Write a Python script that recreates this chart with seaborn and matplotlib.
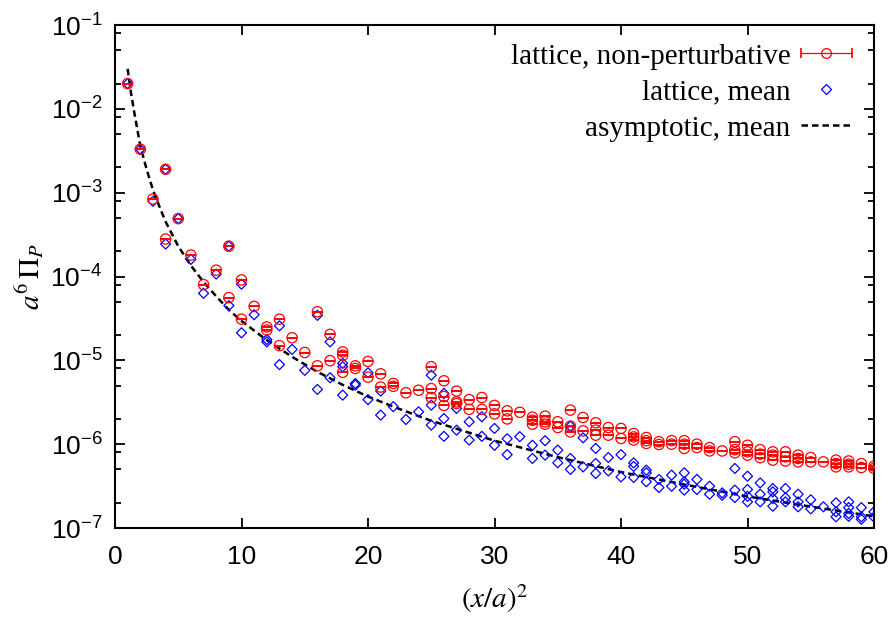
import numpy as np
import pandas as pd
import matplotlib
matplotlib.use("Agg")
import matplotlib.pyplot as plt
from matplotlib.lines import Line2D
from matplotlib.legend_handler import HandlerTuple, HandlerLine2D
from matplotlib.ticker import LogLocator, FuncFormatter, NullFormatter
import seaborn as sns

# --- data ------------------------------------------------------------------
# (x/a)^2 = 1..60 ; several lattice orbits per value
x_sq = list(range(1, 61))

nonpert_vals = [
    [2.0e-2], [3.3e-3], [8.4e-4], [1.9e-3, 2.8e-4], [4.9e-4],
    [1.8e-4], [8.0e-5], [1.19e-4], [2.3e-4, 5.6e-5], [9.1e-5, 3.1e-5],
    [4.4e-5], [2.5e-5, 2.3e-5], [3.1e-5, 1.5e-5], [1.86e-5], [1.24e-5],
    [3.8e-5, 8.6e-6], [2.04e-5, 9.9e-6], [1.26e-5, 1.15e-5, 7.2e-6], [8.6e-6, 8.0e-6], [9.7e-6, 6.3e-6],
    [6.9e-6, 4.8e-6], [5.3e-6, 4.9e-6], [4.1e-6], [4.4e-6], [8.4e-6, 4.6e-6, 3.6e-6],
    [5.7e-6, 3.7e-6, 2.9e-6], [4.3e-6, 3.2e-6, 3.05e-6], [3.4e-6, 2.6e-6], [3.6e-6, 2.6e-6], [2.9e-6, 2.3e-6],
    [2.5e-6, 2.0e-6], [2.4e-6], [2.1e-6, 1.93e-6, 1.73e-6], [2.16e-6, 1.85e-6, 1.73e-6], [1.85e-6, 1.58e-6],
    [2.55e-6, 1.64e-6, 1.4e-6], [2.08e-6, 1.44e-6], [1.8e-6, 1.47e-6, 1.28e-6], [1.58e-6, 1.28e-6], [1.54e-6, 1.17e-6],
    [1.34e-6, 1.22e-6, 1.12e-6], [1.2e-6, 1.1e-6, 1.02e-6], [1.07e-6, 9.9e-7], [1.1e-6, 1.0e-6], [1.1e-6, 1.0e-6, 8.9e-7],
    [1.0e-6, 9.1e-7], [9.1e-7, 8.3e-7], [8.3e-7], [1.07e-6, 8.6e-7, 7.9e-7], [9.7e-7, 8.1e-7, 7.4e-7],
    [8.6e-7, 7.6e-7, 6.9e-7], [8.1e-7, 7.4e-7, 6.45e-7], [8.1e-7, 7.06e-7, 6.3e-7], [7.4e-7, 6.75e-7, 6.15e-7], [6.93e-7, 6.15e-7],
    [6.15e-7], [6.45e-7, 5.87e-7, 5.36e-7], [6.3e-7, 5.77e-7, 5.36e-7], [5.87e-7, 5.26e-7], [5.47e-7, 5.13e-7],
]

mean_vals = [
    [2.0e-2], [3.3e-3], [7.9e-4], [1.9e-3, 2.44e-4], [4.9e-4],
    [1.6e-4], [6.3e-5], [1.07e-4], [2.3e-4, 4.5e-5], [8.1e-5, 2.13e-5],
    [3.5e-5], [1.77e-5, 1.66e-5], [2.58e-5, 8.9e-6], [1.35e-5], [7.6e-6],
    [3.44e-5, 4.5e-6], [1.66e-5, 6.2e-6], [9.2e-6, 8.4e-6, 3.85e-6], [5.3e-6, 5.06e-6], [7.1e-6, 3.4e-6],
    [4.3e-6, 2.22e-6], [2.8e-6], [1.97e-6], [2.43e-6], [6.65e-6, 2.92e-6, 1.69e-6],
    [4.03e-6, 2.02e-6, 1.24e-6], [2.67e-6, 1.47e-6], [1.85e-6, 1.12e-6], [2.12e-6, 1.24e-6], [1.54e-6, 9.7e-7],
    [1.16e-6, 7.5e-7], [1.23e-6], [9.7e-7, 6.75e-7], [1.1e-6, 7.4e-7], [8.5e-7, 6.0e-7],
    [1.64e-6, 6.75e-7, 5.0e-7], [1.19e-6, 5.36e-7], [8.9e-7, 5.9e-7, 4.47e-7], [6.93e-7, 4.8e-7], [7.5e-7, 4.07e-7],
    [5.98e-7, 5.43e-7, 4.01e-7], [4.9e-7, 4.55e-7, 3.56e-7], [3.8e-7, 3.04e-7], [4.27e-7, 3.15e-7], [4.55e-7, 3.55e-7, 3.33e-7, 2.83e-7],
    [3.8e-7, 2.88e-7], [3.15e-7, 2.53e-7], [2.62e-7, 2.46e-7], [5.13e-7, 2.83e-7, 2.31e-7], [4.15e-7, 2.88e-7, 2.39e-7, 2.05e-7],
    [3.45e-7, 2.53e-7, 2.05e-7], [2.96e-7, 2.7e-7, 2.25e-7, 1.82e-7], [2.96e-7, 2.29e-7, 2.05e-7], [2.53e-7, 2.05e-7, 1.79e-7], [2.17e-7, 1.69e-7],
    [1.79e-7], [2.0e-7, 1.56e-7, 1.36e-7], [2.05e-7, 1.75e-7, 1.49e-7, 1.38e-7], [1.75e-7, 1.36e-7, 1.27e-7], [1.56e-7, 1.35e-7],
]

asym_x = [1, 1.25, 1.5, 2, 2.5, 3, 3.5, 4, 5, 6, 7, 8, 9, 10, 12, 14, 16, 18, 20,
          22, 25, 30, 35, 40, 45, 50, 55, 60]
asym_y = [3.0e-2, 1.6e-2, 9.5e-3, 3.6e-3, 1.9e-3, 1.08e-3, 6.9e-4, 4.5e-4, 2.3e-4, 1.35e-4,
          8.6e-5, 5.8e-5, 4.0e-5, 2.95e-5, 1.74e-5, 1.1e-5, 7.3e-6, 5.1e-6, 3.7e-6,
          2.8e-6, 1.9e-6, 1.1e-6, 7.0e-7, 4.65e-7, 3.3e-7, 2.38e-7, 1.8e-7, 1.38e-7]


def to_frame(vals):
    rows = [(x, v) for x, vs in zip(x_sq, vals) for v in vs]
    return pd.DataFrame(rows, columns=["x", "y"])


df_np = to_frame(nonpert_vals)
df_mean = to_frame(mean_vals)
df_asym = pd.DataFrame({"x": asym_x, "y": asym_y})

# --- style ------------------------------------------------------------------
sns.set_style("ticks", rc={"axes.edgecolor": "black", "text.color": "black",
                           "axes.labelcolor": "black", "xtick.color": "black",
                           "ytick.color": "black"})
plt.rcParams["font.family"] = ["Liberation Sans", "DejaVu Sans"]
plt.rcParams["mathtext.fontset"] = "stix"

fig = plt.figure(figsize=(8.96, 6.21), dpi=100)
ax = fig.add_axes([115 / 896, 1 - 528 / 621, 759 / 896, 503 / 621])

dash = (0, (2.6, 1.6))
sns.lineplot(data=df_asym, x="x", y="y", ax=ax, color="black", lw=1.8,
             linestyle=dash, zorder=2)
sns.scatterplot(data=df_mean, x="x", y="y", ax=ax, marker="D", s=26,
                facecolors="none", edgecolor="#0000ff", linewidth=0.9, zorder=3)
sns.scatterplot(data=df_np, x="x", y="y", ax=ax, marker="o", s=55,
                facecolors="none", edgecolor="#ff0000", linewidth=0.9, zorder=4)
# error bars are far smaller than the symbols: only the caps show
ax.errorbar(df_np["x"], df_np["y"], yerr=np.zeros(len(df_np)), fmt="none",
            ecolor="#ff0000", elinewidth=0.9, capsize=3.4, capthick=1.2, zorder=4)

ax.set_yscale("log")
ax.set_xlim(0, 60)
ax.set_ylim(1e-7, 1e-1)
ax.set_xticks(range(0, 61, 10))
ax.yaxis.set_major_locator(LogLocator(base=10, numticks=10))
ax.yaxis.set_minor_locator(LogLocator(base=10, subs=(2, 5, 8), numticks=10))
ax.yaxis.set_minor_formatter(NullFormatter())
ax.yaxis.set_major_formatter(FuncFormatter(
    lambda v, p: r"$\mathregular{10^{%d}}$" % round(np.log10(v))))

ax.tick_params(which="both", direction="in", top=True, right=True,
               labelsize=19, width=1.3)
ax.tick_params(which="major", length=7, pad=9)
ax.tick_params(axis="x", which="major", pad=12)
ax.tick_params(which="minor", length=4)
for s in ax.spines.values():
    s.set_linewidth(1.5)

ax.set_xlabel(r"$(x/a)^2$", fontsize=21, labelpad=10)
ax.set_ylabel(r"$a^6\,\Pi_P$", fontsize=21, labelpad=3)

# legend (gnuplot-like: horizontal error bar with caps for the red entry)
h_bar = Line2D([], [], color="#ff0000", lw=0.9, marker="|", ms=7, mew=1.2)
h_circ = Line2D([], [], ls="none", marker="o", ms=7, mfc="none",
                mec="#ff0000", mew=0.9)
h_mean = Line2D([], [], ls="none", marker="D", ms=5, mfc="none",
                mec="#0000ff", mew=0.9)
h_asym = Line2D([], [], color="black", lw=1.8, linestyle=dash)
ax.legend([(h_bar, h_circ), h_mean, h_asym],
          ["lattice, non-perturbative", "lattice, mean", "asymptotic, mean"],
          loc="upper right", bbox_to_anchor=(1.005, 1.016), frameon=False,
          markerfirst=False, handlelength=1.75, handletextpad=0.35,
          labelspacing=0.33, borderaxespad=0.5,
          handler_map={tuple: HandlerTuple(ndivide=1, pad=0),
                       h_bar: HandlerLine2D(numpoints=2, marker_pad=0)},
          prop={"family": "Liberation Serif", "size": 21})

fig.savefig("out.png", dpi=100)
